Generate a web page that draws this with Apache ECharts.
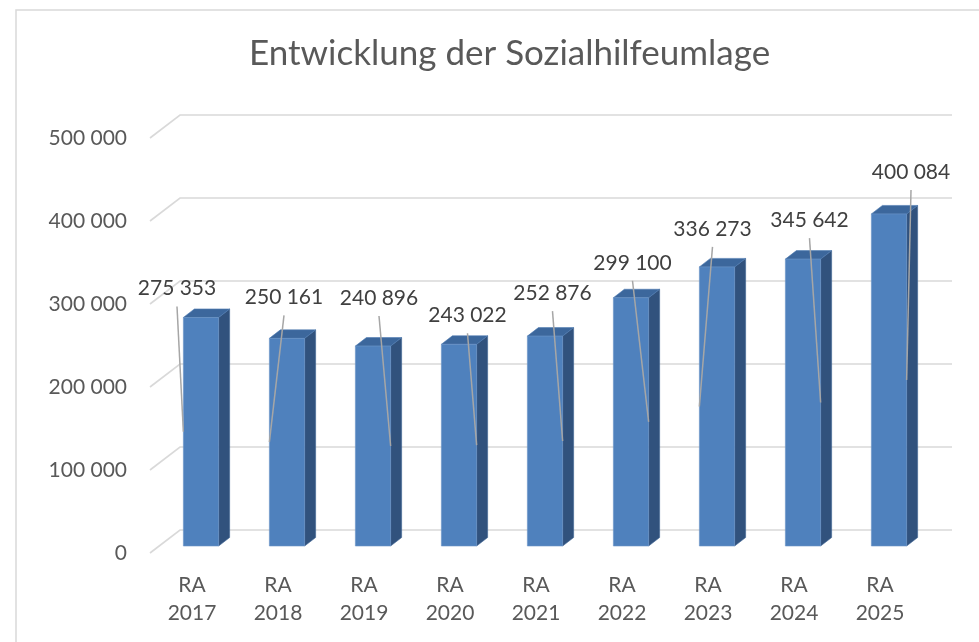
<!DOCTYPE html>
<html>
<head>
<meta charset="utf-8">
<script src="https://cdn.jsdelivr.net/npm/echarts@6/dist/echarts.min.js"></script>
<style>
  html, body { margin: 0; padding: 0; background: #fff; }
  #chart { width: 979px; height: 642px; }
</style>
</head>
<body>
<div id="chart"></div>
<script>
const categories = ['RA\n2017', 'RA\n2018', 'RA\n2019', 'RA\n2020', 'RA\n2021', 'RA\n2022', 'RA\n2023', 'RA\n2024', 'RA\n2025']
const values = [275353, 250161, 240896, 243022, 252876, 299100, 336273, 345642, 400084]
const yTicks = [0, 100000, 200000, 300000, 400000, 500000]

// where each data label was dragged to, relative to its bar top (px)
const labelShift = [[-24, -29], [-3, -41], [6, -48], [8.5, -29], [7.5, -43], [1.5, -35], [-4.5, -38], [6.5, -39], [22, -42]]

const FONT = 'Lato'
const INK = '#595959'

function fmt(v) {
  return String(v).replace(/\B(?=(\d{3})+(?!\d))/g, ' ')
}

function barGeom(api) {
  const idx = api.value(0)
  const top = api.coord([idx, api.value(1)])
  const base = api.coord([idx, 0])
  const bw = api.size([1, 0])[0]
  const hw = bw * 0.205
  return { cx: top[0], l: top[0] - hw, r: top[0] + hw, t: top[1], b: base[1], dx: bw * 0.128, dy: -8.5 }
}

function renderBar(params, api) {
  const g = barGeom(api)
  return {
    type: 'group',
    children: [
      {
        type: 'polygon',
        shape: { points: [[g.r, g.t], [g.r + g.dx, g.t + g.dy], [g.r + g.dx, g.b + g.dy], [g.r, g.b]] },
        style: { fill: '#31527d', stroke: '#3f6696', lineWidth: 0.6 }
      },
      {
        type: 'polygon',
        shape: { points: [[g.l, g.t], [g.l + g.dx, g.t + g.dy], [g.r + g.dx, g.t + g.dy], [g.r, g.t]] },
        style: { fill: '#3c679c', stroke: '#4d7bb2', lineWidth: 0.6 }
      },
      {
        type: 'rect',
        shape: { x: g.l, y: g.t, width: g.r - g.l, height: g.b - g.t },
        style: { fill: '#4f81bd', stroke: '#6b95c8', lineWidth: 0.6 }
      }
    ]
  }
}

function renderLabel(params, api) {
  const g = barGeom(api)
  const s = labelShift[params.dataIndex]
  const lx = g.cx + s[0]
  const ly = g.t + s[1]
  const ex = lx < g.cx ? g.l : g.r
  return {
    type: 'group',
    children: [
      {
        type: 'line',
        shape: { x1: lx, y1: ly + 18, x2: ex, y2: (g.t + g.b) / 2 },
        style: { stroke: '#a6a6a6', lineWidth: 1.5 }
      },
      {
        type: 'text',
        style: {
          text: fmt(api.value(1)), x: lx, y: ly,
          align: 'center', verticalAlign: 'middle',
          fill: '#404040', fontSize: 21, fontFamily: FONT
        }
      }
    ]
  }
}

function renderGridLine(params, api) {
  const cs = params.coordSys
  const y = api.coord([0, api.value(1)])[1]
  return {
    type: 'polyline',
    shape: { points: [[cs.x - 8, y + 7], [cs.x + 22, y - 16], [cs.x + cs.width + 20, y - 16]] },
    style: { stroke: '#d9d9d9', lineWidth: 1.6, fill: null }
  }
}

const chart = echarts.init(document.getElementById('chart'))

chart.setOption({
  animation: false,
  backgroundColor: '#fff',
  title: {
    text: 'Entwicklung der Sozialhilfeumlage',
    left: 244,
    top: 31,
    textStyle: { color: INK, fontSize: 35, fontWeight: 'normal', fontFamily: FONT }
  },
  graphic: [{
    type: 'rect',
    shape: { x: 16, y: 10, width: 1000, height: 700 },
    style: { fill: null, stroke: '#d9d9d9', lineWidth: 1.5 },
    silent: true
  }],
  grid: [
    { left: 158, right: 47, top: 131, bottom: 96 },
    { left: 149, right: 56, top: 138, bottom: 89 }
  ],
  xAxis: [
    { type: 'category', gridIndex: 0, data: categories, show: false },
    {
      type: 'category', gridIndex: 1, data: categories,
      axisLine: { show: false }, axisTick: { show: false },
      axisLabel: { color: INK, fontSize: 21, fontFamily: FONT, lineHeight: 28, margin: 18, interval: 0 }
    }
  ],
  yAxis: [
    { type: 'value', gridIndex: 0, min: 0, max: 500000, interval: 100000, show: false },
    {
      type: 'value', gridIndex: 1, min: 0, max: 500000, interval: 100000,
      axisLine: { show: false }, axisTick: { show: false }, splitLine: { show: false },
      axisLabel: { color: INK, fontSize: 21, fontFamily: FONT, margin: 22, formatter: fmt }
    }
  ],
  series: [
    {
      type: 'custom', xAxisIndex: 0, yAxisIndex: 0, z: 1, silent: true,
      renderItem: renderGridLine,
      data: yTicks.map((v) => [0, v])
    },
    {
      type: 'custom', xAxisIndex: 0, yAxisIndex: 0, z: 2, silent: true,
      renderItem: renderBar,
      data: values.map((v, i) => [i, v])
    },
    {
      type: 'custom', xAxisIndex: 0, yAxisIndex: 0, z: 3, silent: true,
      renderItem: renderLabel,
      data: values.map((v, i) => [i, v])
    }
  ]
})
</script>
</body>
</html>
